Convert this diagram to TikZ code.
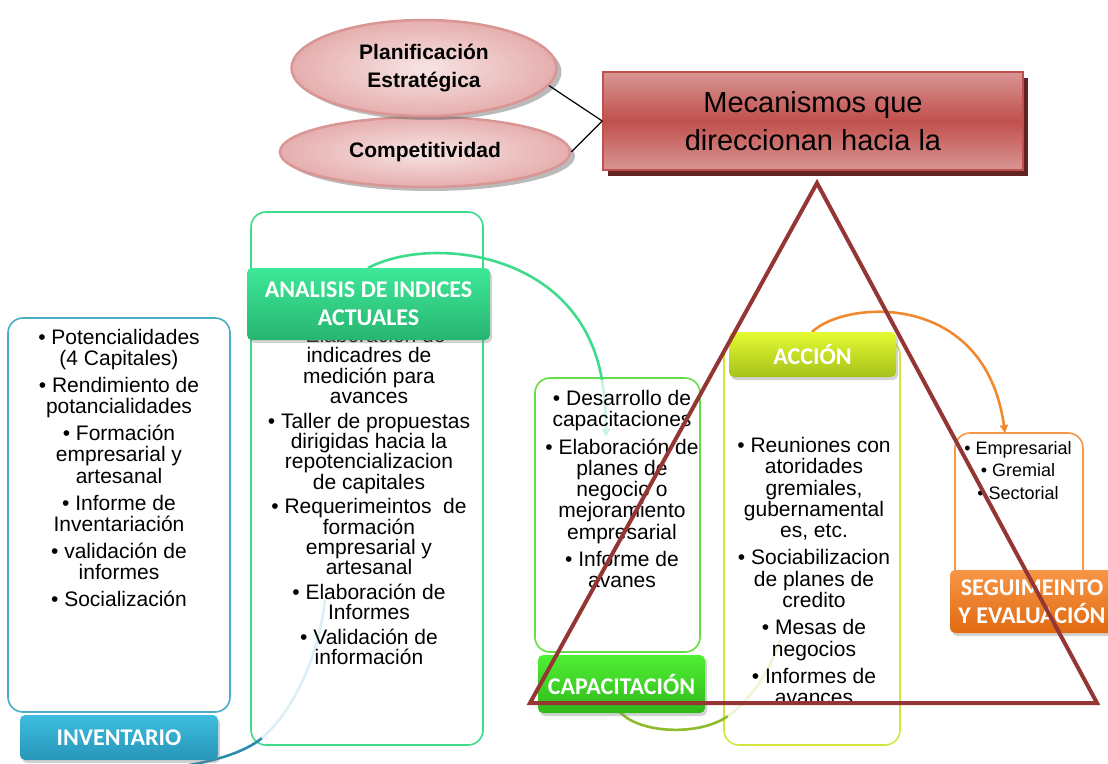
\documentclass[tikz,border=0pt]{standalone}
\usepackage{fontspec}
\setmainfont{Liberation Sans}
\newfontfamily\labfont{Carlito}
\usetikzlibrary{shapes.geometric,shadows,arrows.meta}
\definecolor{triC}{HTML}{943634}
\definecolor{pinkL}{HTML}{F7E4E4}
\definecolor{pinkD}{HTML}{E6AEAE}
\definecolor{pinkB}{HTML}{D99694}
\definecolor{mecL}{HTML}{D99694}
\definecolor{mecM}{HTML}{C0504D}
\definecolor{mecS}{HTML}{632523}
\definecolor{bluB}{HTML}{4BACC6}
\definecolor{bluT}{HTML}{3DBDE0}
\definecolor{bluD}{HTML}{2796B8}
\definecolor{bluA}{HTML}{2A8DB0}
\definecolor{bluF}{HTML}{DDEFF6}
\definecolor{grnB}{HTML}{3DDB8C}
\definecolor{grnT}{HTML}{3EE898}
\definecolor{grnD}{HTML}{27B571}
\definecolor{grnF}{HTML}{CDF3DE}
\definecolor{capB}{HTML}{66DD44}
\definecolor{capT}{HTML}{4FF034}
\definecolor{capD}{HTML}{31B81A}
\definecolor{accB}{HTML}{D3E63C}
\definecolor{accT}{HTML}{E4FA32}
\definecolor{accD}{HTML}{A6C21A}
\definecolor{ygA}{HTML}{8DBB2A}
\definecolor{ygF}{HTML}{EEF5D4}
\definecolor{orB}{HTML}{F79646}
\definecolor{orT}{HTML}{F79646}
\definecolor{orD}{HTML}{E06A12}
\definecolor{orA}{HTML}{F08A30}
\begin{document}
\begin{tikzpicture}[x=1pt,y=-1pt,
  cbox/.style={draw=#1, line width=1.6pt, rounded corners=15pt, inner sep=0pt},
  lbox/.style={rounded corners=5pt, text=white, align=center, inner sep=0pt,
     font=\labfont\bfseries\fontsize{24}{28}\selectfont,
     drop shadow={shadow xshift=2pt,shadow yshift=-3pt,opacity=0.35}},
  body/.style={align=center, inner sep=0pt, anchor=north, text=black,
     font=\fontsize{21}{21.3}\selectfont},
  oval/.style={ellipse, draw=pinkB, line width=2.5pt, inner color=pinkL, outer color=pinkD,
     drop shadow={shadow xshift=5pt,shadow yshift=-4pt,opacity=0.45,fill=black!60},
     font=\bfseries\fontsize{21}{28}\selectfont, align=center},
  arc/.style={line width=2.6pt}
]
\useasboundingbox (0,0) rectangle (1108,763);

% top part
\node[oval, minimum width=290pt, minimum height=70pt] (cp) at (425,152) {Competitividad};
\node[oval, minimum width=265pt, minimum height=96pt] (pl) at (424,68) {Planificación\\Estratégica};
\node[draw=mecM, line width=1.5pt, top color=mecL, bottom color=mecL, middle color=mecM,
  minimum width=420pt, minimum height=98pt, inner sep=0pt, align=center,
  font=\fontsize{29}{38}\selectfont,
  drop shadow={shadow xshift=5pt,shadow yshift=-6pt,opacity=1,fill=mecS}]
  (mec) at (813,121) {Mecanismos que\\direccionan hacia la};
\draw[line width=1.2pt] (pl.-8) -- (mec.west);
\draw[line width=1.2pt] (cp.east) -- (mec.west);

% content boxes
\node[cbox=bluB, minimum width=222pt, minimum height=394pt] (invbox) at (119,515) {};
\node[cbox=grnB, minimum width=232pt, minimum height=533pt] (anbox) at (367,478.5) {};
\node[cbox=capB, minimum width=165pt, minimum height=274pt] (capbox) at (617.5,515) {};
\node[cbox=accB, minimum width=176pt, minimum height=405pt] (accbox) at (812,542.5) {};
\node[cbox=orB, minimum width=128pt, minimum height=157pt] (segbox) at (1019,511.5) {};

% arc end points
\coordinate (b0) at (170,768);
\coordinate (b1) at (262,738);
\coordinate (b2) at (325,600);
\coordinate (g0) at (368,268);
\coordinate (g1) at (602,380);
\coordinate (g2) at (606,437);
\coordinate (y0) at (620,712);
\coordinate (y1) at (728,716);
\coordinate (y2) at (780,640);
\coordinate (o0) at (812,332);
\coordinate (o1) at (1005,433);

% arcs
\draw[arc, bluA] (b0) .. controls (215,762) and (245,752) .. (b1);
\draw[arc, bluF] (b1) .. controls (292,712) and (318,660) .. (b2);
\draw[arc, grnB] (g0) .. controls (430,235) and (580,250) .. (g1);
\draw[arc, grnF, -{Triangle[length=8pt,width=8pt]}] (g1) .. controls (605,400) and (606,415) .. (g2);
\draw[arc, ygA] (y0) .. controls (640,734) and (700,736) .. (y1);
\draw[arc, ygF] (y1) .. controls (750,700) and (770,672) .. (y2);
\draw[arc, orA, -{Triangle[length=8pt,width=8pt]}] (o0) .. controls (845,300) and (985,290) .. (o1);

% texts
\node[body] (invtxt) at (119,329) {• Potencialidades\\(4 Capitales)\\[5.5pt]
• Rendimiento de\\potancialidades\\[5.5pt]
• Formación\\empresarial y\\artesanal\\[5.5pt]
• Informe de\\Inventariación\\[5.5pt]
• validación de\\informes\\[5.5pt]
• Socialización};
\node[body, font=\fontsize{21}{20.3}\selectfont] (antxt) at (369,327) {• Elaboracion de\\indicadres de\\medición para\\avances\\[4.5pt]
• Taller de propuestas\\dirigidas hacia la\\repotencializacion\\de capitales\\[4.5pt]
• Requerimeintos~ de\\formación\\empresarial y\\artesanal\\[4.5pt]
• Elaboración de\\Informes\\[4.5pt]
• Validación de\\información};
\node[body] (captxt) at (622,390) {• Desarrollo de\\capacitaciones\\[6pt]
• Elaboración de\\planes de\\negocio o\\mejoramiento\\empresarial\\[6pt]
• Informe de\\avanes};
\begin{scope}
\clip (700,420) rectangle (930,707);
\node[body] (acctxt) at (814,437) {• Reuniones con\\atoridades\\gremiales,\\gubernamental\\es, etc.\\[6pt]
• Sociabilizacion\\de planes de\\credito\\[6pt]
• Mesas de\\negocios\\[6pt]
• Informes de\\avances};
\end{scope}
\node[body, font=\fontsize{18}{22.5}\selectfont] (segtxt) at (1018,441) {• Empresarial\\• Gremial\\• Sectorial};

% labels
\node[lbox, top color=bluT, bottom color=bluD, minimum width=198pt, minimum height=45pt] (invlab) at (119,737.5) {INVENTARIO};
\node[lbox, top color=grnT, bottom color=grnD, minimum width=243pt, minimum height=72pt] (anlab) at (368.5,304) {ANALISIS DE INDICES\\ACTUALES};
\node[lbox, top color=capT, bottom color=capD, minimum width=167pt, minimum height=58pt] (caplab) at (621.5,684) {CAPACITACIÓN};
\node[lbox, top color=accT, bottom color=accD, minimum width=167pt, minimum height=45pt] (acclab) at (812.5,354.5) {ACCIÓN};
\node[lbox, top color=orT, bottom color=orD, minimum width=164pt, minimum height=63pt] (seglab) at (1032,601.5) {SEGUIMEINTO\\Y EVALUACIÓN};

% triangle
\coordinate (ta) at (817,183);
\coordinate (tr) at (1097,703);
\coordinate (tl) at (530,703);
\draw[triC, line width=4pt] (ta) -- (tr) -- (tl) -- cycle;
\end{tikzpicture}
\end{document}
